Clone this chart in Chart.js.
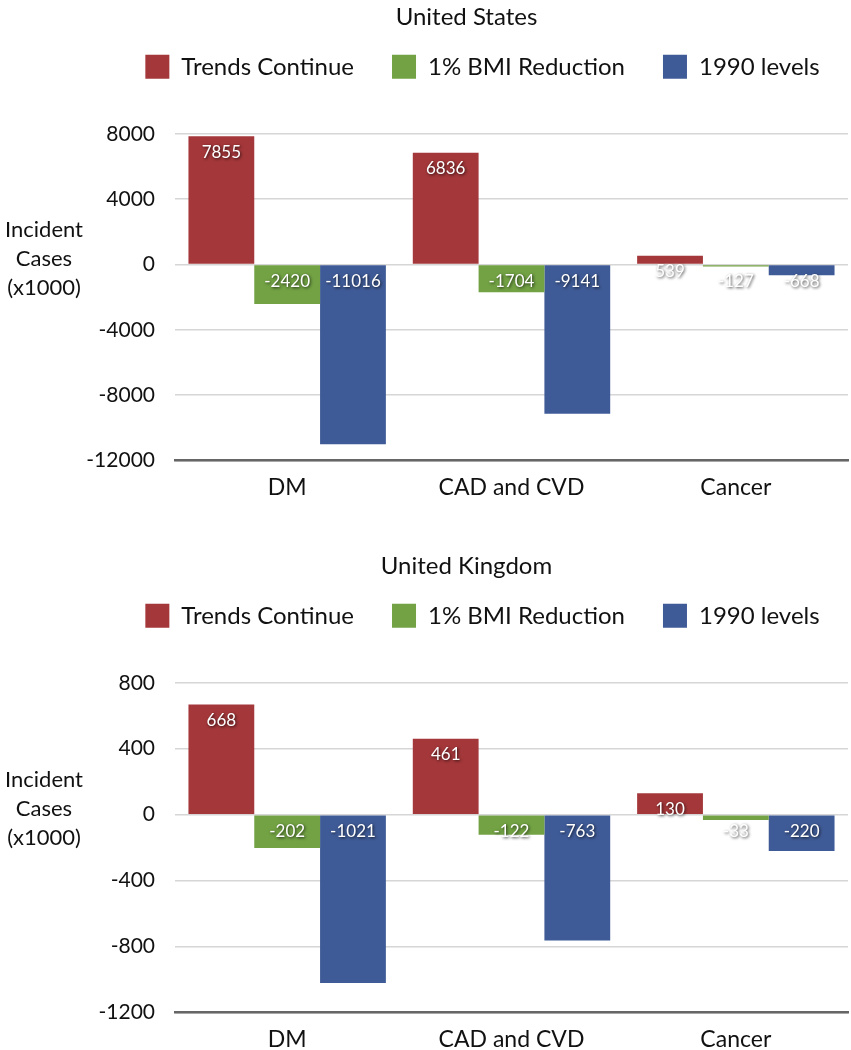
<!DOCTYPE html>
<html>
<head>
<meta charset="utf-8">
<script src="https://cdn.jsdelivr.net/npm/chart.js@4.4.1/dist/chart.umd.min.js"></script>
<style>
  html, body { margin: 0; background: #fff; overflow: hidden; }
  .panel { position: absolute; left: 0; width: 851px; }
  #usBox { top: 0; height: 516px; }
  #ukBox { top: 549px; height: 519px; }
</style>
</head>
<body>
<div class="panel" id="usBox"><canvas id="usChart"></canvas></div>
<div class="panel" id="ukBox"><canvas id="ukChart"></canvas></div>
<script>
// chart data
const categories = ['DM', 'CAD and CVD', 'Cancer'];
const seriesNames = ['Trends Continue', '1% BMI Reduction', '1990 levels'];
const seriesColors = ['#a4373a', '#72a244', '#3f5b97'];

const usTrends = [7855, 6836, 539];
const usBmi = [-2420, -1704, -127];
const us1990 = [-11016, -9141, -668];
const usTicks = [-12000, -8000, -4000, 0, 4000, 8000];

const ukTrends = [668, 461, 130];
const ukBmi = [-202, -122, -33];
const uk1990 = [-1021, -763, -220];
const ukTicks = [-1200, -800, -400, 0, 400, 800];

const axisTitle = ['Incident', 'Cases', '(x1000)'];
const FONT = 'Lato, "Open Sans", sans-serif';

// push the plot down below the legend, nudge legend a bit right
const legendGap = {
  id: 'legendGap',
  beforeInit(chart) {
    const fit = chart.legend.fit;
    chart.legend.fit = function () {
      fit.bind(chart.legend)();
      this.height += 45;
    };
  },
  afterLayout(chart) {
    chart.legend.left += 16;
    chart.legend.right += 16;
  }
};

// white value labels with a dark shadow
const barLabels = {
  id: 'barLabels',
  afterDatasetsDraw(chart) {
    const ctx = chart.ctx;
    ctx.save();
    ctx.font = '17px ' + FONT;
    ctx.textAlign = 'center';
    ctx.textBaseline = 'middle';
    ctx.fillStyle = '#fff';
    ctx.shadowColor = 'rgba(0,0,0,0.75)';
    ctx.shadowBlur = 3;
    ctx.shadowOffsetX = 1;
    ctx.shadowOffsetY = 1;
    chart.data.datasets.forEach((ds, i) => {
      chart.getDatasetMeta(i).data.forEach((bar, j) => {
        const top = Math.min(bar.y, bar.base);
        ctx.fillText(String(ds.data[j]), bar.x, top + 16);
      });
    });
    ctx.restore();
  }
};

// horizontal y axis title on the left
const sideTitle = {
  id: 'sideTitle',
  afterDraw(chart) {
    const ctx = chart.ctx;
    const zeroY = chart.scales.y.getPixelForValue(0);
    ctx.save();
    ctx.font = '22px ' + FONT;
    ctx.fillStyle = '#111';
    ctx.textAlign = 'center';
    ctx.textBaseline = 'middle';
    axisTitle.forEach((line, i) => {
      ctx.fillText(line, 44, zeroY - 6 + (i - 1) * 29);
    });
    ctx.restore();
  }
};

function makeChart(id, title, trends, bmi, levels, ticks) {
  return new Chart(document.getElementById(id), {
    type: 'bar',
    data: {
      labels: categories,
      datasets: [
        { label: seriesNames[0], data: trends, backgroundColor: seriesColors[0] },
        { label: seriesNames[1], data: bmi, backgroundColor: seriesColors[1] },
        { label: seriesNames[2], data: levels, backgroundColor: seriesColors[2] }
      ]
    },
    options: {
      responsive: true,
      maintainAspectRatio: false,
      animation: false,
      layout: { padding: { left: 85, right: 3, top: 0, bottom: 2 } },
      datasets: { bar: { categoryPercentage: 0.88, barPercentage: 1.0 } },
      plugins: {
        title: {
          display: true,
          text: title,
          color: '#111',
          font: { family: FONT, size: 24, weight: 'normal' },
          padding: { top: 3, bottom: -15 }
        },
        legend: {
          labels: {
            boxWidth: 24,
            boxHeight: 24,
            padding: 38,
            color: '#111',
            font: { family: FONT, size: 24 }
          }
        },
        tooltip: { enabled: false }
      },
      scales: {
        x: {
          grid: { display: false, drawTicks: false },
          border: { display: true, color: '#666', width: 2.5 },
          ticks: { color: '#111', padding: 13, font: { family: FONT, size: 23 } }
        },
        y: {
          min: ticks[0],
          max: ticks[ticks.length - 1],
          afterBuildTicks: (s) => { s.ticks = ticks.map(v => ({ value: v })); },
          afterFit: (s) => { s.width = 90; },
          grid: { color: '#d6d6d6', lineWidth: 1.5, drawTicks: false },
          border: { display: false },
          ticks: {
            color: '#111',
            padding: 20,
            font: { family: FONT, size: 21 },
            callback: (v) => String(v)
          }
        }
      }
    },
    plugins: [legendGap, barLabels, sideTitle]
  });
}

makeChart('usChart', 'United States', usTrends, usBmi, us1990, usTicks);
makeChart('ukChart', 'United Kingdom', ukTrends, ukBmi, uk1990, ukTicks);
</script>
</body>
</html>
